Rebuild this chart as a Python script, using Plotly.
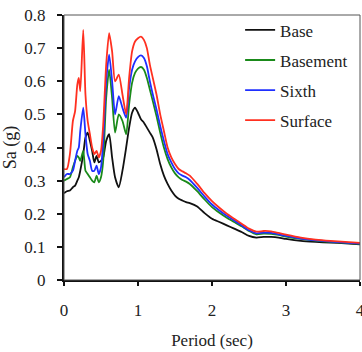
import plotly.graph_objects as go

period = [0, 0.04, 0.08, 0.12, 0.15, 0.18, 0.2, 0.22, 0.26, 0.29,
          0.32, 0.35, 0.38, 0.41, 0.44, 0.47, 0.5, 0.53, 0.57, 0.61,
          0.65, 0.69, 0.74, 0.79, 0.84, 0.88, 0.92, 0.96, 1.0, 1.04,
          1.08, 1.12, 1.16, 1.2, 1.25, 1.3, 1.35, 1.4, 1.45, 1.5,
          1.55, 1.6, 1.65, 1.7, 1.8, 1.9, 2.0, 2.1, 2.2, 2.3,
          2.4, 2.5, 2.6, 2.7, 2.8, 2.9, 3.0, 3.2, 3.4, 3.6,
          3.8, 4.0]

surface = [0.335, 0.335, 0.38, 0.48, 0.51, 0.59, 0.61, 0.57, 0.755, 0.56,
           0.48, 0.44, 0.40, 0.38, 0.39, 0.37, 0.39, 0.47, 0.65, 0.745,
           0.69, 0.60, 0.62, 0.56, 0.50, 0.61, 0.69, 0.72, 0.73, 0.735,
           0.725, 0.70, 0.65, 0.61, 0.56, 0.50, 0.45, 0.40, 0.37, 0.35,
           0.335, 0.328, 0.322, 0.315, 0.29, 0.262, 0.238, 0.218, 0.20, 0.185,
           0.17, 0.155, 0.146, 0.148, 0.147, 0.142, 0.137, 0.128, 0.122, 0.118,
           0.115, 0.112]

sixth = [0.31, 0.32, 0.32, 0.33, 0.36, 0.39, 0.40, 0.45, 0.52, 0.44,
         0.38, 0.36, 0.33, 0.33, 0.345, 0.32, 0.34, 0.42, 0.60, 0.68,
         0.60, 0.50, 0.555, 0.52, 0.49, 0.58, 0.635, 0.66, 0.673, 0.678,
         0.67, 0.645, 0.60, 0.56, 0.515, 0.465, 0.42, 0.38, 0.355, 0.335,
         0.322, 0.315, 0.31, 0.302, 0.278, 0.252, 0.228, 0.21, 0.194, 0.18,
         0.165, 0.15, 0.141, 0.143, 0.142, 0.138, 0.133, 0.125, 0.12, 0.116,
         0.113, 0.11]

basement = [0.30, 0.305, 0.31, 0.34, 0.36, 0.375, 0.37, 0.36, 0.39, 0.33,
            0.32, 0.31, 0.30, 0.295, 0.315, 0.295, 0.31, 0.36, 0.55, 0.635,
            0.55, 0.445, 0.50, 0.48, 0.44, 0.53, 0.595, 0.625, 0.638, 0.643,
            0.635, 0.61, 0.575, 0.54, 0.495, 0.445, 0.40, 0.365, 0.34, 0.322,
            0.31, 0.302, 0.297, 0.29, 0.268, 0.243, 0.22, 0.203, 0.188, 0.175,
            0.162, 0.148, 0.138, 0.14, 0.139, 0.136, 0.131, 0.124, 0.119, 0.115,
            0.112, 0.109]

base = [0.262, 0.268, 0.27, 0.28, 0.285, 0.30, 0.31, 0.33, 0.38, 0.43,
        0.445, 0.42, 0.39, 0.355, 0.375, 0.355, 0.36, 0.37, 0.42, 0.44,
        0.37, 0.31, 0.28, 0.33, 0.40, 0.46, 0.505, 0.52, 0.505, 0.485,
        0.475, 0.46, 0.445, 0.43, 0.395, 0.35, 0.315, 0.29, 0.27, 0.255,
        0.245, 0.24, 0.235, 0.232, 0.222, 0.202, 0.185, 0.175, 0.165, 0.155,
        0.145, 0.133, 0.128, 0.13, 0.13, 0.128, 0.124, 0.118, 0.115, 0.113,
        0.111, 0.108]

series_names = ["Base", "Basement", "Sixth", "Surface"]
series_values = [base, basement, sixth, surface]
series_colors = ["#111111", "#1a8a1a", "#1f2fff", "#ff3020"]

x_ticks = [0, 1, 2, 3, 4]
y_ticks = [0, 0.1, 0.2, 0.3, 0.4, 0.5, 0.6, 0.7, 0.8]

FONT = "Liberation Serif"

fig = go.Figure()
for i, (name, vals, col) in enumerate(zip(series_names, series_values, series_colors)):
    fig.add_trace(go.Scatter(
        x=period, y=vals, mode="lines", name=name,
        line=dict(color=col, width=1.8, shape="spline", smoothing=0.6),
        legendgroup=name,
    ))

fig.update_layout(
    width=362, height=352,
    margin=dict(l=64, r=2, t=15, b=72, autoexpand=False),
    paper_bgcolor="white", plot_bgcolor="white",
    font=dict(family=FONT, size=17, color="#222222"),
    showlegend=True,
    legend=dict(
        x=0.595, y=1.01, xanchor="left", yanchor="top",
        bgcolor="rgba(0,0,0,0)", borderwidth=0,
        font=dict(family=FONT, size=17, color="#222222"),
        tracegroupgap=5, itemwidth=30,
    ),
    shapes=[dict(type="rect", xref="paper", yref="paper", x0=0, x1=1, y0=0, y1=1,
                 line=dict(color="#555555", width=1), layer="above")],
)

fig.update_xaxes(
    range=[0, 4], tickvals=x_ticks, ticktext=[str(v) for v in x_ticks],
    showgrid=False, zeroline=False, automargin=False,
    showline=True, linecolor="#111111", linewidth=2,
    ticks="outside", ticklen=4, tickcolor="#111111", tickwidth=1.5,
    ticklabelstandoff=10, ticklabeloverflow="allow",
    tickfont=dict(family=FONT, size=17),
    title=dict(text="Period (sec)", font=dict(family=FONT, size=17), standoff=15),
)
fig.update_yaxes(
    range=[0, 0.8], tickvals=y_ticks, ticktext=[("%g" % v) for v in y_ticks],
    showgrid=False, zeroline=False, automargin=False,
    showline=True, linecolor="#111111", linewidth=2,
    ticks="outside", ticklen=5, tickcolor="#111111", tickwidth=1.5,
    ticklabelstandoff=8,
    tickfont=dict(family=FONT, size=17),
    title=dict(text="Sa (g)", font=dict(family=FONT, size=18), standoff=4),
)

fig.write_html("out.html")
